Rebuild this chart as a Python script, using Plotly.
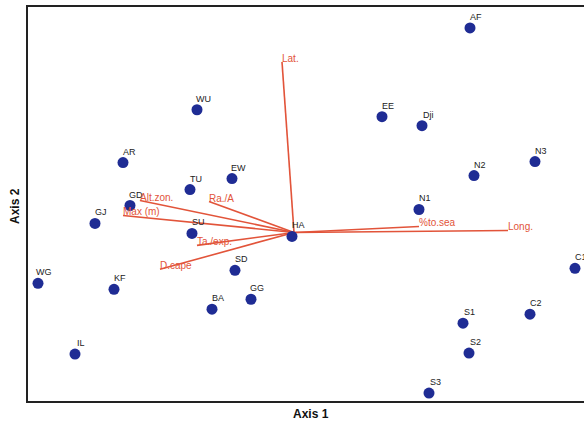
import plotly.graph_objects as go

# Site scores (Axis 1, Axis 2)
sites = ["AF", "WU", "EE", "Dji", "AR", "N3", "EW", "N2", "TU", "GD", "N1", "GJ", "SU", "HA",
         "SD", "C1", "WG", "KF", "GG", "BA", "C2", "S1", "S2", "IL", "S3"]
site_x = [1.76, -0.97, 0.88, 1.28, -1.71, 2.41, -0.62, 1.80, -1.04, -1.64, 1.25, -1.99, -1.02, -0.02,
          -0.59, 2.81, -2.56, -1.80, -0.43, -0.82, 2.36, 1.69, 1.75, -2.19, 1.35]
site_y = [2.05, 1.23, 1.16, 1.07, 0.70, 0.71, 0.54, 0.57, 0.43, 0.27, 0.23, 0.09, -0.01, -0.04,
          -0.38, -0.36, -0.51, -0.57, -0.67, -0.77, -0.82, -0.91, -1.21, -1.22, -1.61]

# Environmental vectors
variables = ["Lat.", "Long.", "%to.sea", "Alt.zon.", "Ra./A", "Max (m)", "Ta./exp.", "D.cape"]
var_x = [-0.12, 2.14, 1.25, -1.54, -0.85, -1.71, -0.97, -1.34]
var_y = [1.71, 0.02, 0.06, 0.32, 0.31, 0.17, -0.13, -0.37]

RED = "#e2543a"
BLUE = "#1f2c94"
FONT = "Liberation Sans, Arial, sans-serif"

fig = go.Figure()

for vx, vy in zip(var_x, var_y):
    fig.add_trace(go.Scatter(x=[0, vx], y=[0, vy], mode="lines",
                             line=dict(color=RED, width=1.6),
                             hoverinfo="skip", showlegend=False))

fig.add_trace(go.Scatter(x=site_x, y=site_y, mode="markers",
                         marker=dict(color=BLUE, size=11, line=dict(width=0)),
                         showlegend=False, cliponaxis=False))

for name, x, y in zip(sites, site_x, site_y):
    fig.add_annotation(x=x, y=y, text=name, showarrow=False, xshift=6, yshift=11,
                       font=dict(family=FONT, size=9, color="#222222"))

for name, x, y in zip(variables, var_x, var_y):
    fig.add_annotation(x=x, y=y, text=name, showarrow=False, xanchor="left", yanchor="bottom",
                       yshift=-3, xshift=-1, borderpad=0,
                       font=dict(family=FONT, size=10, color=RED))

fig.add_annotation(x=0.5, y=0, xref="paper", yref="paper", xanchor="center", yanchor="middle",
                   xshift=5, yshift=-13, text="<b>Axis 1</b>",
                   showarrow=False, font=dict(family=FONT, size=12, color="#111111"))
fig.add_annotation(x=0, y=0.5, xref="paper", yref="paper", xanchor="center", yanchor="middle",
                   xshift=-13, yshift=-2, text="<b>Axis 2</b>",
                   textangle=-90, showarrow=False, font=dict(family=FONT, size=12, color="#111111"))

fig.update_layout(
    width=584, height=424,
    margin=dict(l=28, r=0, t=7, b=23),
    paper_bgcolor="white", plot_bgcolor="white",
    xaxis=dict(range=[-2.66, 2.90], showgrid=False, zeroline=False, showticklabels=False,
               ticks="", showline=True, mirror=True, linecolor="#222222", linewidth=2),
    yaxis=dict(range=[-1.69, 2.26], showgrid=False, zeroline=False, showticklabels=False,
               ticks="", showline=True, mirror=False, linecolor="#222222", linewidth=2),
)

fig.write_html("out.html")
